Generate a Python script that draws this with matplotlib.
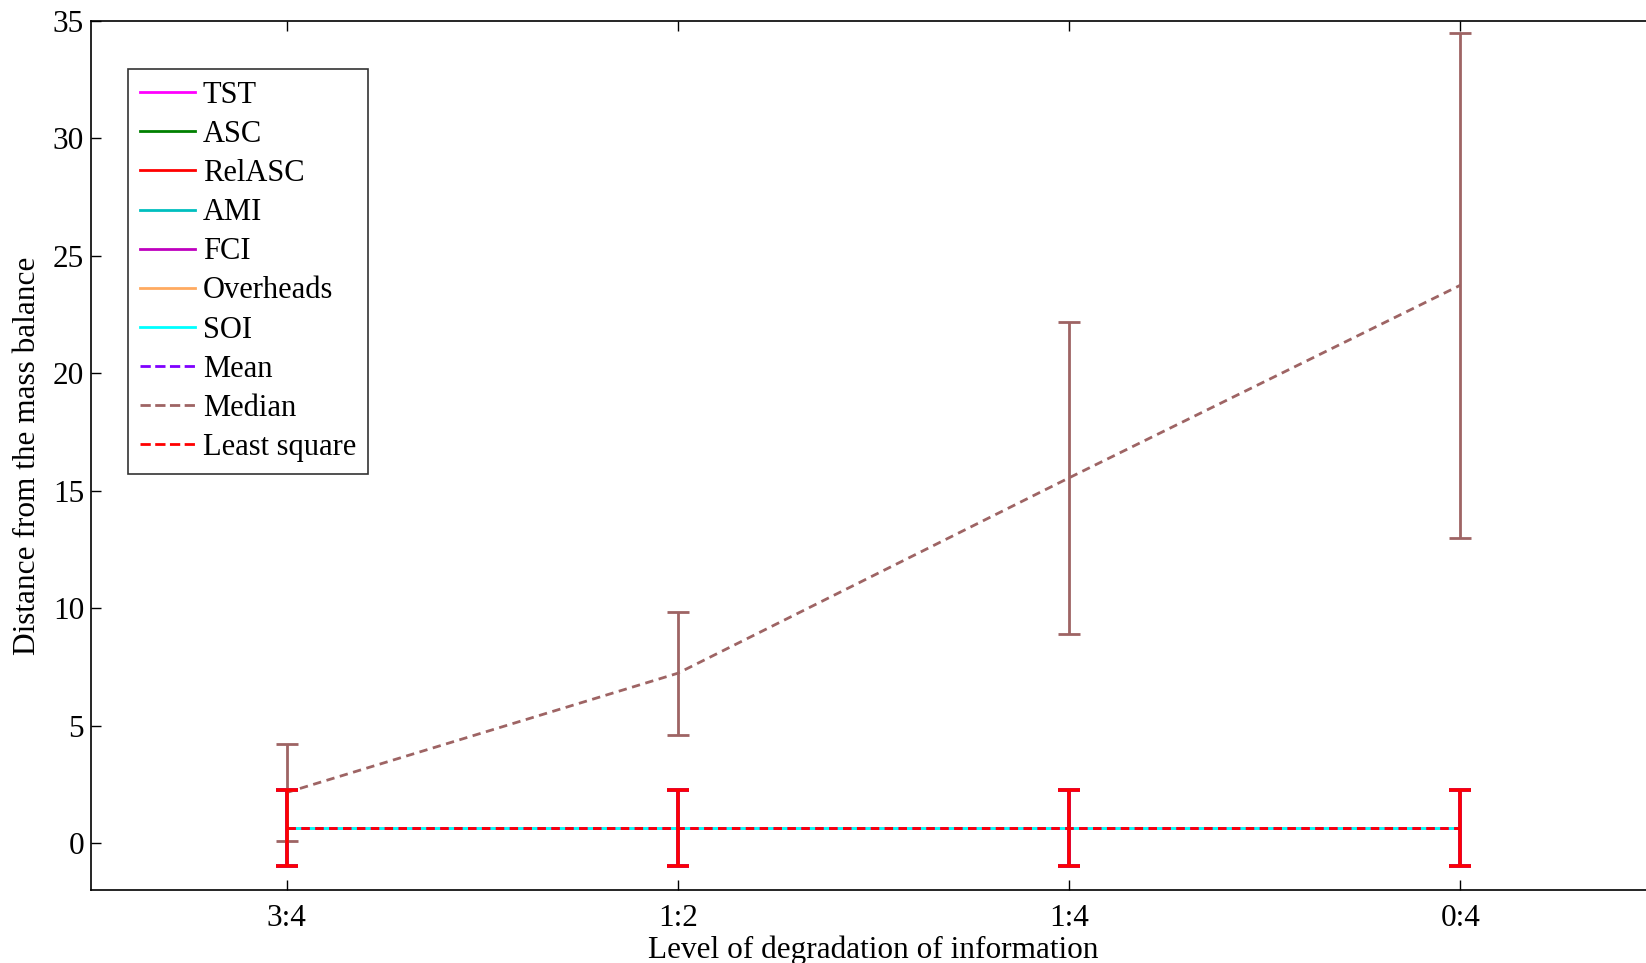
import matplotlib.pyplot as plt
from matplotlib.lines import Line2D
import numpy as np

plt.rcParams['font.family'] = ['Liberation Serif', 'DejaVu Serif']

# Degradation levels on the x axis
levels = ['3:4', '1:2', '1:4', '0:4']
x = np.arange(1, len(levels) + 1)

# Indicator series: distance from the mass balance and its spread
names = ['TST', 'ASC', 'RelASC', 'AMI', 'FCI', 'Overheads', 'SOI',
         'Mean', 'Median', 'Least square']
flat_value = [0.63, 0.63, 0.63, 0.63]
flat_err = [1.61, 1.61, 1.61, 1.61]
median_value = [2.15, 7.23, 15.55, 23.75]
median_err = [2.05, 2.62, 6.65, 10.75]

colors = ['#ff00ff', '#008000', '#ff0000', '#00bfbf', '#bf00bf',
          '#ffaa60', '#00ffff', '#7f00ff', '#9e6464', '#ff0000']
styles = ['-', '-', '-', '-', '-', '-', '-', '--', '--', '--']

fig = plt.figure(figsize=(16.46, 9.63), dpi=100)
ax = fig.add_axes([91 / 1646, 1 - 890 / 963, 1565 / 1646, 869 / 963])

handles = []
for i, name in enumerate(names):
    if name == 'Median':
        vals, errs, ew = median_value, median_err, 2.0
    else:
        vals, errs, ew = flat_value, flat_err, 2.6
    ax.errorbar(x, vals, yerr=errs, fmt='none', ecolor=colors[i],
                elinewidth=ew, capsize=8, capthick=ew, zorder=2 + i)
    ax.plot(x, vals, linestyle=styles[i], color=colors[i], linewidth=2.0,
            dashes=(3, 2) if styles[i] == '--' else (None, None),
            zorder=2 + i)
    handles.append(Line2D([], [], color=colors[i], linestyle=styles[i],
                          linewidth=2.0, label=name))

ax.set_xlim(0.5, 4.5)
ax.set_ylim(-2, 35)
ax.set_xticks(x)
ax.set_xticklabels(levels)
ax.set_yticks(np.arange(0, 36, 5))
ax.tick_params(direction='in', length=7, width=1, labelsize=22.5,
               top=True, right=True)
ax.tick_params(axis='x', pad=10)
ax.tick_params(axis='y', pad=5)
for side in ax.spines.values():
    side.set_linewidth(1.2)

ax.set_xlabel('Level of degradation of information', fontsize=22.5, labelpad=2)
ax.set_ylabel('Distance from the mass balance', fontsize=22.5, labelpad=8)

leg = ax.legend(handles=handles, loc='upper left',
                bbox_to_anchor=(0.0236, 0.945), borderaxespad=0,
                fontsize=22, frameon=True, fancybox=False,
                handlelength=1.8, handletextpad=0.25, labelspacing=0.33,
                borderpad=0.4)
leg.get_frame().set_edgecolor('black')
leg.get_frame().set_linewidth(1.2)

fig.savefig('out.png', dpi=100)
